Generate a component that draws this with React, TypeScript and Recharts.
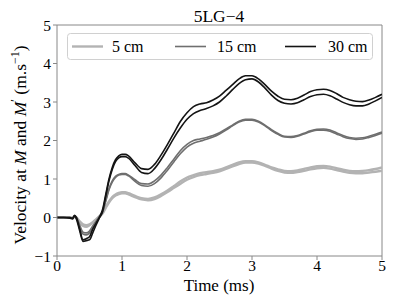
import React from 'react';
import { LineChart, Line, XAxis, YAxis, ReferenceLine } from 'recharts';

const time = [0, 0.1, 0.2, 0.24, 0.27, 0.3, 0.35, 0.4, 0.45, 0.5, 0.55, 0.6, 0.65, 0.7, 0.75, 0.8, 0.85, 0.9, 0.95, 1.0, 1.05, 1.1, 1.2, 1.3, 1.4, 1.5, 1.6, 1.7, 1.8, 1.9, 2.0, 2.1, 2.2, 2.3, 2.4, 2.5, 2.6, 2.7, 2.8, 2.9, 3.0, 3.1, 3.2, 3.3, 3.4, 3.5, 3.6, 3.7, 3.8, 3.9, 4.0, 4.1, 4.2, 4.3, 4.4, 4.5, 4.6, 4.7, 4.8, 4.9, 5.0];

const v5M = [0, 0, 0, -0.01, 0.03, 0, -0.1, -0.18, -0.2, -0.18, -0.12, -0.05, 0.03, 0.12, 0.28, 0.42, 0.53, 0.6, 0.64, 0.66, 0.66, 0.63, 0.56, 0.5, 0.48, 0.52, 0.6, 0.7, 0.82, 0.94, 1.04, 1.1, 1.15, 1.18, 1.2, 1.24, 1.3, 1.37, 1.43, 1.46, 1.46, 1.43, 1.37, 1.3, 1.25, 1.21, 1.2, 1.22, 1.26, 1.3, 1.33, 1.34, 1.32, 1.28, 1.24, 1.21, 1.2, 1.21, 1.23, 1.26, 1.3];
const v5P = [0, 0, 0, -0.02, 0.02, -0.01, -0.13, -0.22, -0.24, -0.2, -0.14, -0.06, 0.02, 0.1, 0.25, 0.39, 0.5, 0.57, 0.61, 0.63, 0.63, 0.6, 0.53, 0.47, 0.45, 0.48, 0.56, 0.66, 0.77, 0.88, 0.98, 1.05, 1.1, 1.13, 1.16, 1.2, 1.26, 1.33, 1.39, 1.43, 1.43, 1.4, 1.34, 1.27, 1.21, 1.17, 1.16, 1.18, 1.21, 1.25, 1.28, 1.29, 1.27, 1.23, 1.19, 1.16, 1.15, 1.15, 1.17, 1.19, 1.21];
const v15M = [0, 0, 0, -0.01, 0.04, 0, -0.2, -0.38, -0.4, -0.35, -0.22, -0.1, 0.02, 0.15, 0.45, 0.75, 0.95, 1.07, 1.12, 1.14, 1.14, 1.1, 0.98, 0.88, 0.87, 0.95, 1.1, 1.3, 1.52, 1.74, 1.9, 2.0, 2.04, 2.08, 2.13, 2.2, 2.3, 2.4, 2.5, 2.55, 2.55, 2.5, 2.4, 2.28, 2.18, 2.11, 2.1, 2.13, 2.19, 2.25, 2.29, 2.3, 2.27, 2.2, 2.13, 2.08, 2.06, 2.07, 2.11, 2.16, 2.22];
const v15P = [0, 0, -0.01, -0.02, 0.03, -0.02, -0.25, -0.43, -0.45, -0.4, -0.26, -0.12, 0, 0.13, 0.42, 0.72, 0.92, 1.04, 1.1, 1.12, 1.12, 1.08, 0.94, 0.83, 0.81, 0.88, 1.03, 1.23, 1.45, 1.66, 1.83, 1.93, 1.98, 2.03, 2.09, 2.17, 2.27, 2.38, 2.48, 2.53, 2.53, 2.48, 2.38, 2.26, 2.16, 2.09, 2.08, 2.11, 2.17, 2.23, 2.27, 2.27, 2.24, 2.17, 2.1, 2.05, 2.03, 2.04, 2.08, 2.13, 2.19];
const v30M = [0, 0, 0, -0.02, 0.06, 0, -0.3, -0.58, -0.55, -0.5, -0.3, -0.15, 0, 0.2, 0.6, 1.0, 1.3, 1.5, 1.6, 1.64, 1.64, 1.6, 1.42, 1.27, 1.25, 1.38, 1.62, 1.9, 2.2, 2.5, 2.72, 2.88, 2.95, 2.98, 3.05, 3.15, 3.3, 3.45, 3.6, 3.68, 3.68, 3.6, 3.45, 3.28, 3.15, 3.07, 3.06, 3.1, 3.18, 3.27, 3.32, 3.33, 3.3, 3.22, 3.12, 3.06, 3.02, 3.01, 3.05, 3.12, 3.2];
const v30P = [0, 0, -0.02, -0.04, 0.04, -0.05, -0.35, -0.62, -0.6, -0.58, -0.4, -0.2, -0.02, 0.15, 0.55, 0.95, 1.25, 1.45, 1.55, 1.58, 1.58, 1.54, 1.35, 1.17, 1.14, 1.27, 1.5, 1.78, 2.07, 2.33, 2.55, 2.7, 2.78, 2.83, 2.9, 3.0, 3.15, 3.32, 3.48, 3.58, 3.6, 3.52, 3.36, 3.18, 3.04, 2.97, 2.95, 2.98, 3.06, 3.14, 3.19, 3.2, 3.16, 3.08, 2.99, 2.93, 2.9, 2.9, 2.95, 3.03, 3.12];

const xTicks = [0, 1, 2, 3, 4, 5];
const yTicks = [-1, 0, 1, 2, 3, 4, 5];
const legendLabels = ['5 cm', '15 cm', '30 cm'];
const colors = ['#b3b3b3', '#6f6f6f', '#141414'];
const widths = [2.4, 1.6, 1.6];

const data = time.map((t, i) => ({
  t,
  a: v5M[i], b: v5P[i],
  c: v15M[i], d: v15P[i],
  e: v30M[i], f: v30P[i],
}));

const FONT = 'Liberation Serif, Times New Roman, DejaVu Serif, serif';
const fmt = (v: number) => (v < 0 ? '\u2212' + Math.abs(v) : String(v));

const legendLine = [72, 175, 285];
const legendText = [112, 217, 328];
const txt = { fontFamily: FONT };

export default function App() {
  return (
    <div style={{ position: 'absolute', left: 0, top: 0, fontFamily: FONT }}>
      <LineChart width={395} height={304} data={data} margin={{ top: 25, right: 13, left: 0, bottom: 0 }} style={{ fontFamily: FONT }}>
        <XAxis
          dataKey="t"
          type="number"
          domain={[0, 5]}
          ticks={xTicks}
          height={48}
          tickSize={4}
          tickMargin={0}
          stroke="#888"
          tick={{ fill: '#000', fontSize: 15.5, style: txt }}
          allowDataOverflow
        />
        <YAxis
          type="number"
          domain={[-1, 5]}
          ticks={yTicks}
          width={57}
          tickSize={4}
          tickMargin={2}
          stroke="#888"
          tickFormatter={fmt}
          tick={{ fill: '#000', fontSize: 15.5, style: txt }}
          allowDataOverflow
        />
        <ReferenceLine y={5} stroke="#888" strokeWidth={1} />
        <ReferenceLine x={5} stroke="#888" strokeWidth={1} />
        <Line dataKey="a" stroke={colors[0]} strokeWidth={widths[0]} dot={false} isAnimationActive={false} type="monotone" />
        <Line dataKey="b" stroke={colors[0]} strokeWidth={widths[0]} dot={false} isAnimationActive={false} type="monotone" />
        <Line dataKey="c" stroke={colors[1]} strokeWidth={widths[1]} dot={false} isAnimationActive={false} type="monotone" />
        <Line dataKey="d" stroke={colors[1]} strokeWidth={widths[1]} dot={false} isAnimationActive={false} type="monotone" />
        <Line dataKey="e" stroke={colors[2]} strokeWidth={widths[2]} dot={false} isAnimationActive={false} type="monotone" />
        <Line dataKey="f" stroke={colors[2]} strokeWidth={widths[2]} dot={false} isAnimationActive={false} type="monotone" />
        <g style={txt}>
          <text x={219} y={22} textAnchor="middle" fontSize={17.5} style={txt} fill="#000">5LG{'\u2212'}4</text>
          <text x={219} y={291} textAnchor="middle" fontSize={17} style={txt} fill="#000">Time (ms)</text>
          <text transform="translate(26,145) rotate(-90)" textAnchor="middle" fontSize={17.5} style={txt} fill="#000">
            Velocity at <tspan fontStyle="italic">M</tspan> and <tspan fontStyle="italic">M</tspan><tspan dy={-7} fontSize={12}>{'\u2032'}</tspan><tspan dy={7}> (m.s</tspan><tspan dy={-7} fontSize={12}>{'\u2212'}1</tspan><tspan dy={7}>)</tspan>
          </text>
          <rect x={67.5} y={33.5} width={305} height={26} rx={3} fill="#fff" fillOpacity={0.85} stroke="#d0d0d0" />
          {legendLabels.map((l, i) => (
            <g key={l}>
              <line x1={legendLine[i]} x2={legendLine[i] + 31} y1={46.5} y2={46.5} stroke={colors[i]} strokeWidth={widths[i]} />
              <text x={legendText[i]} y={52} fontSize={16} style={txt} fill="#000">{l}</text>
            </g>
          ))}
        </g>
      </LineChart>
    </div>
  );
}
